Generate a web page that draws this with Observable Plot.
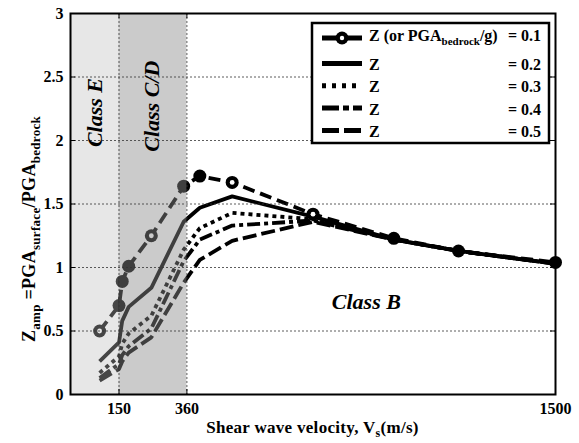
<!DOCTYPE html>
<html>
<head>
<meta charset="utf-8">
<script src="https://cdn.jsdelivr.net/npm/d3@7"></script>
<script src="https://cdn.jsdelivr.net/npm/@observablehq/plot@0.6"></script>
<style>
  body { margin: 0; background: #fff; }
  #chart { width: 579px; height: 443px; }
</style>
</head>
<body>
<div id="chart"></div>
<script>
// Shear wave velocity of the soil column (m/s)
const vs = [90, 150, 160, 180, 250, 350, 400, 500, 750, 1000, 1200, 1500];

// Bedrock intensity levels Z (= PGA_bedrock / g)
const zLevels = [0.1, 0.2, 0.3, 0.4, 0.5];

// Amplification factor Z_amp = PGA_surface / PGA_bedrock for each Z
const zampZ01 = [0.50, 0.70, 0.89, 1.01, 1.25, 1.64, 1.72, 1.67, 1.42, 1.23, 1.13, 1.04];
const zampZ02 = [0.26, 0.41, 0.58, 0.69, 0.84, 1.36, 1.47, 1.56, 1.40, 1.22, 1.13, 1.03];
const zampZ03 = [0.17, 0.30, 0.40, 0.48, 0.62, 1.14, 1.31, 1.43, 1.38, 1.22, 1.13, 1.03];
const zampZ04 = [0.13, 0.24, 0.31, 0.38, 0.52, 1.05, 1.22, 1.33, 1.37, 1.22, 1.13, 1.03];
const zampZ05 = [0.11, 0.20, 0.26, 0.33, 0.45, 0.88, 1.06, 1.21, 1.36, 1.22, 1.13, 1.03];

// Z = 0.1 sites drawn with an open (ring) marker
const openMarkerVs = [90, 250, 500, 750];

// Site classes and their velocity bounds
const classNames = ["Class E", "Class C/D"];
const classEdges = [0, 150, 360];

// Axis ticks
const xTicks = [150, 360, 1500];
const yTicks = [0, 0.5, 1, 1.5, 2, 2.5, 3];

const seriesValues = [zampZ01, zampZ02, zampZ03, zampZ04, zampZ05];
const rows = zLevels.flatMap((z, i) => vs.map((v, j) => ({z, vs: v, zamp: seriesValues[i][j]})));
const classes = classNames.map((name, i) => ({name, x1: classEdges[i], x2: classEdges[i + 1]}));

const dashFor = {0.1: "12,6", 0.2: null, 0.3: "4,4", 0.4: "13,4,4,4", 0.5: "14,5"};
const shade = {"Class E": ["#bdbdbd", 0.37], "Class C/D": ["#8c8c8c", 0.45]};

const W = 579, H = 443;
const M = {left: 70, right: 24, top: 13, bottom: 49};
const innerW = W - M.left - M.right, innerH = H - M.top - M.bottom;
const tick = 5;

const font = "Liberation Serif";
const z01 = rows.filter(d => d.z === 0.1);

const chart = Plot.plot({
  width: W, height: H,
  marginLeft: M.left, marginRight: M.right, marginTop: M.top, marginBottom: M.bottom,
  style: {fontFamily: font, fontSize: "16px", fontWeight: "bold", background: "white", color: "black"},
  x: {domain: [0, 1500]},
  y: {domain: [0, 3]},
  marks: [
    ...zLevels.map(z => Plot.line(rows.filter(d => d.z === z), {
      x: "vs", y: "zamp", stroke: "black", strokeWidth: 3.8,
      strokeDasharray: dashFor[z], strokeLinecap: "butt", strokeLinejoin: "round"
    })),
    Plot.dot(z01, {x: "vs", y: "zamp", r: 6.5, fill: "black"}),
    Plot.dot(z01.filter(d => openMarkerVs.includes(d.vs)), {x: "vs", y: "zamp", r: 2.4, fill: "white"}),
    // site class shading lies over the curves
    Plot.rect(classes, {x1: "x1", x2: "x2", fill: d => shade[d.name][0], fillOpacity: d => shade[d.name][1]}),
    Plot.ruleY(yTicks.filter(d => d > 0 && d < 3), {stroke: "#333", strokeWidth: 0.8, strokeDasharray: "2,2"}),
    Plot.ruleX(xTicks.filter(d => d < 1500), {stroke: "#333", strokeWidth: 0.8, strokeDasharray: "2,2"}),
    // inward ticks on all four sides
    Plot.tickY(yTicks, {y: d => d, stroke: "black", strokeWidth: 1, insetRight: innerW - tick}),
    Plot.tickY(yTicks, {y: d => d, stroke: "black", strokeWidth: 1, insetLeft: innerW - tick}),
    Plot.tickX(xTicks, {x: d => d, stroke: "black", strokeWidth: 1, insetTop: innerH - tick}),
    Plot.tickX(xTicks, {x: d => d, stroke: "black", strokeWidth: 1, insetBottom: innerH - tick}),
    Plot.frame({stroke: "black", strokeWidth: 2}),
    Plot.text(["Class E"], {x: 77, y: 2.22, text: d => d, rotate: -90, fontFamily: font, fontSize: 22, fontStyle: "italic", fontWeight: "bold", fill: "black"}),
    Plot.text(["Class C/D"], {x: 251, y: 2.27, text: d => d, rotate: -90, fontFamily: font, fontSize: 22, fontStyle: "italic", fontWeight: "bold", fill: "black"}),
    Plot.text(["Class B"], {x: 915, y: 0.73, text: d => d, fontFamily: font, fontSize: 22, fontStyle: "italic", fontWeight: "bold", fill: "black"}),
    Plot.axisX(xTicks, {tickSize: 0, tickPadding: 8, label: null, fontFamily: font, fontSize: 16, fontWeight: "bold", tickFormat: d => String(d)}),
    Plot.axisY(yTicks, {tickSize: 0, tickPadding: 7, label: null, fontFamily: font, fontSize: 16, fontWeight: "bold", tickFormat: d => String(d)})
  ]
});

document.getElementById("chart").appendChild(chart);

const svg = d3.select(chart);
const sx = chart.scale("x");

// rich-text titles with subscripts
function richText(g, parts, size, subSize) {
  const t = g.append("text").attr("font-family", font).attr("font-weight", "bold")
    .attr("font-size", size).attr("fill", "black").attr("text-anchor", "start");
  parts.forEach(([s, sub]) => {
    const ts = t.append("tspan").text(s);
    if (sub) ts.attr("font-size", subSize).attr("baseline-shift", "-35%");
  });
  return t;
}

richText(svg.append("g"), [["Shear wave velocity, V"], ["s", true], ["(m/s)"]], 17, 12)
  .attr("text-anchor", "middle").attr("letter-spacing", 0.3)
  .attr("x", (M.left + W - M.right) / 2).attr("y", 433);

richText(svg.append("g").attr("transform", `translate(35,229) rotate(-90)`),
  [["Z"], ["amp", true], [" =PGA"], ["surface", true], ["/PGA"], ["bedrock", true]], 18, 13)
  .attr("text-anchor", "middle").attr("letter-spacing", 0.3);

// legend box in the upper right of the plot area
const lgRight = sx.apply(1500) - 6, lgTop = M.top + 10;
const lgW = 237, lgH = 120, lgLeft = lgRight - lgW;
const lg = svg.append("g");
lg.append("rect").attr("x", lgLeft).attr("y", lgTop).attr("width", lgW).attr("height", lgH)
  .attr("fill", "white").attr("stroke", "black").attr("stroke-width", 2.5);

const legendDash = {0.1: null, 0.2: null, 0.3: "4,6", 0.4: "17,4,6,4", 0.5: "17,5"};
zLevels.forEach((z, i) => {
  const cy = lgTop + (i === 0 ? 15 : 40.5 + (i - 1) * 22.3);
  const x0 = lgLeft + 10, x1 = lgLeft + 50;
  lg.append("line").attr("x1", x0).attr("x2", x1).attr("y1", cy).attr("y2", cy)
    .attr("stroke", "black").attr("stroke-width", 5)
    .attr("stroke-dasharray", legendDash[z]);
  if (z === 0.1) {
    lg.append("circle").attr("cx", (x0 + x1) / 2).attr("cy", cy).attr("r", 6.5).attr("fill", "black");
    lg.append("circle").attr("cx", (x0 + x1) / 2).attr("cy", cy).attr("r", 2.2).attr("fill", "white");
  }
  const by = cy + (i === 0 ? 3 : 6.5);
  const left = i === 0
    ? [["Z (or PGA"], ["bedrock", true], ["/g)"]]
    : [["Z"]];
  richText(lg, left, 16, 11).attr("x", lgLeft + 57).attr("y", by);
  richText(lg, [["= " + z]], 16, 11).attr("text-anchor", "end").attr("x", lgRight - 8).attr("y", by);
});
</script>
</body>
</html>
